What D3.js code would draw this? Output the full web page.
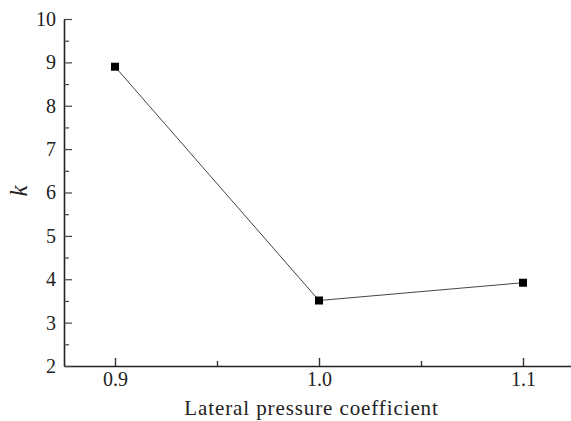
<!DOCTYPE html>
<html><head><meta charset="utf-8">
<script src="https://cdn.jsdelivr.net/npm/d3@7/dist/d3.min.js"></script>
<style>body{margin:0;background:#fff}svg{display:block}</style>
</head><body>
<svg id="c" width="571" height="421"></svg>
<script>
const xValues = [0.9, 1.0, 1.1];
const kValues = [8.90, 3.51, 3.92];
const xTicks = [0.9, 1.0, 1.1];
const xMinorTicks = [0.95, 1.05];
const yTicks = [2, 3, 4, 5, 6, 7, 8, 9, 10];
const yMinorTicks = [2.5, 3.5, 4.5, 5.5, 6.5, 7.5, 8.5, 9.5];

const svg = d3.select("#c");
const L = 64, R = 574, T = 19, B = 366;
const x = d3.scaleLinear().domain([0.875, 1.125]).range([L, R]);
const y = d3.scaleLinear().domain([2, 10]).range([B, T]);
const font = "Liberation Serif";

const gx = svg.append("g").attr("transform", `translate(0,${B})`)
  .call(d3.axisBottom(x).tickValues(xTicks).tickFormat(d3.format(".1f")).tickSizeInner(-8).tickSizeOuter(0).tickPadding(6));
gx.attr("font-family", font).attr("font-size", 20);
gx.select(".domain").attr("stroke", "#222").attr("stroke-width", 1.6);
gx.selectAll(".tick line").attr("stroke", "#333").attr("stroke-width", 1.4);
gx.selectAll("text").attr("fill", "#222");
svg.append("g").attr("transform", `translate(0,${B})`)
  .call(d3.axisBottom(x).tickValues(xMinorTicks).tickFormat("").tickSizeInner(-5).tickSizeOuter(0))
  .call(g => { g.select(".domain").remove(); g.selectAll("line").attr("stroke", "#333").attr("stroke-width", 1.4); });

const gy = svg.append("g").attr("transform", `translate(${L},0)`)
  .call(d3.axisLeft(y).tickValues(yTicks).tickFormat(d3.format("d")).tickSizeInner(-8).tickSizeOuter(0).tickPadding(8));
gy.attr("font-family", font).attr("font-size", 20);
gy.select(".domain").attr("stroke", "#222").attr("stroke-width", 1.6);
gy.selectAll(".tick line").attr("stroke", "#444").attr("stroke-width", 1.2);
gy.selectAll("text").attr("fill", "#222");
svg.append("g").attr("transform", `translate(${L},0)`)
  .call(d3.axisLeft(y).tickValues(yMinorTicks).tickFormat("").tickSizeInner(-5).tickSizeOuter(0))
  .call(g => { g.select(".domain").remove(); g.selectAll("line").attr("stroke", "#444").attr("stroke-width", 1.2); });

const pts = xValues.map((v, i) => [v, kValues[i]]);
svg.append("path").datum(pts)
  .attr("d", d3.line().x(d => x(d[0])).y(d => y(d[1])))
  .attr("fill", "none").attr("stroke", "#444").attr("stroke-width", 1);
svg.selectAll("rect.m").data(pts).join("rect").attr("class", "m")
  .attr("x", d => x(d[0]) - 4).attr("y", d => y(d[1]) - 4)
  .attr("width", 8).attr("height", 8).attr("fill", "#000");

svg.append("text").attr("x", (185 + 438) / 2).attr("y", 415)
  .attr("text-anchor", "middle").attr("font-family", font).attr("font-size", 21)
  .attr("letter-spacing", 0.9).attr("fill", "#222").text("Lateral pressure coefficient");
svg.append("text").attr("transform", "translate(27,191) rotate(-90)")
  .attr("text-anchor", "middle").attr("font-family", font).attr("font-size", 25)
  .attr("font-style", "italic").attr("fill", "#222").text("k");
</script>
</body></html>
